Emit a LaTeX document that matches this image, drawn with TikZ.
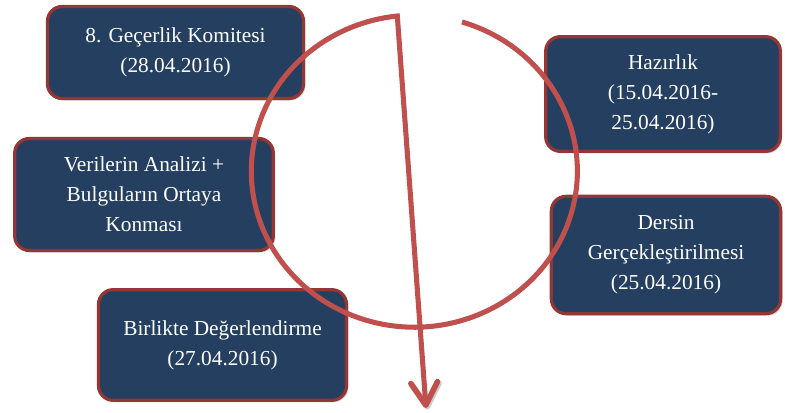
\documentclass[tikz,border=0pt]{standalone}
\usepackage{fontspec}
\setmainfont{Liberation Serif}
\usetikzlibrary{arrows.meta,shadows}
\definecolor{boxblue}{HTML}{243F60}
\definecolor{boxred}{HTML}{943634}
\definecolor{cyclered}{HTML}{C0504D}
\begin{document}
\begin{tikzpicture}[x=0.75pt,y=0.75pt,
    stage/.style={draw=boxred, line width=2.4pt, fill=boxblue, rounded corners=11pt,
        text=white, align=center, font=\fontsize{16}{22.5}\selectfont, inner sep=0pt,
        drop shadow={opacity=0.3, shadow xshift=1.5pt, shadow yshift=-1.5pt}},
    cycle/.style={draw=cyclered, line width=3.8pt,
        preaction={draw=black, opacity=0.2, transform canvas={shift={(1.2pt,-1.2pt)}}}}]
    \useasboundingbox (0,0) rectangle (785,412);
    % Stages
    \node[stage, minimum width=192pt, minimum height=69pt] (komite) at (175.5,359.5) {8. Geçerlik Komitesi\\(28.04.2016)};
    \node[stage, minimum width=176pt, minimum height=86pt] (hazirlik) at (663,318) {Hazırlık\\(15.04.2016-\\25.04.2016)};
    \node[stage, minimum width=194pt, minimum height=84pt] (analiz) at (144,217.5) {Verilerin Analizi +\\Bulguların Ortaya\\Konması};
    \node[stage, minimum width=172pt, minimum height=88pt] (ders) at (666,157) {Dersin\\Gerçekleştirilmesi\\(25.04.2016)};
    \node[stage, minimum width=186pt, minimum height=83pt] (degerlendirme) at (222.5,67) {Birlikte Değerlendirme\\(27.04.2016)};
    % Cycle arrow
    \coordinate (start) at (462,390);
    \coordinate (tip) at (426,4);
    \draw[cycle, -{Straight Barb[length=17pt,width=20pt,line width=4.2pt,round]}] (start)
        arc[start angle=73, end angle=-264, x radius=163, y radius=156] -- (tip);
\end{tikzpicture}
\end{document}
